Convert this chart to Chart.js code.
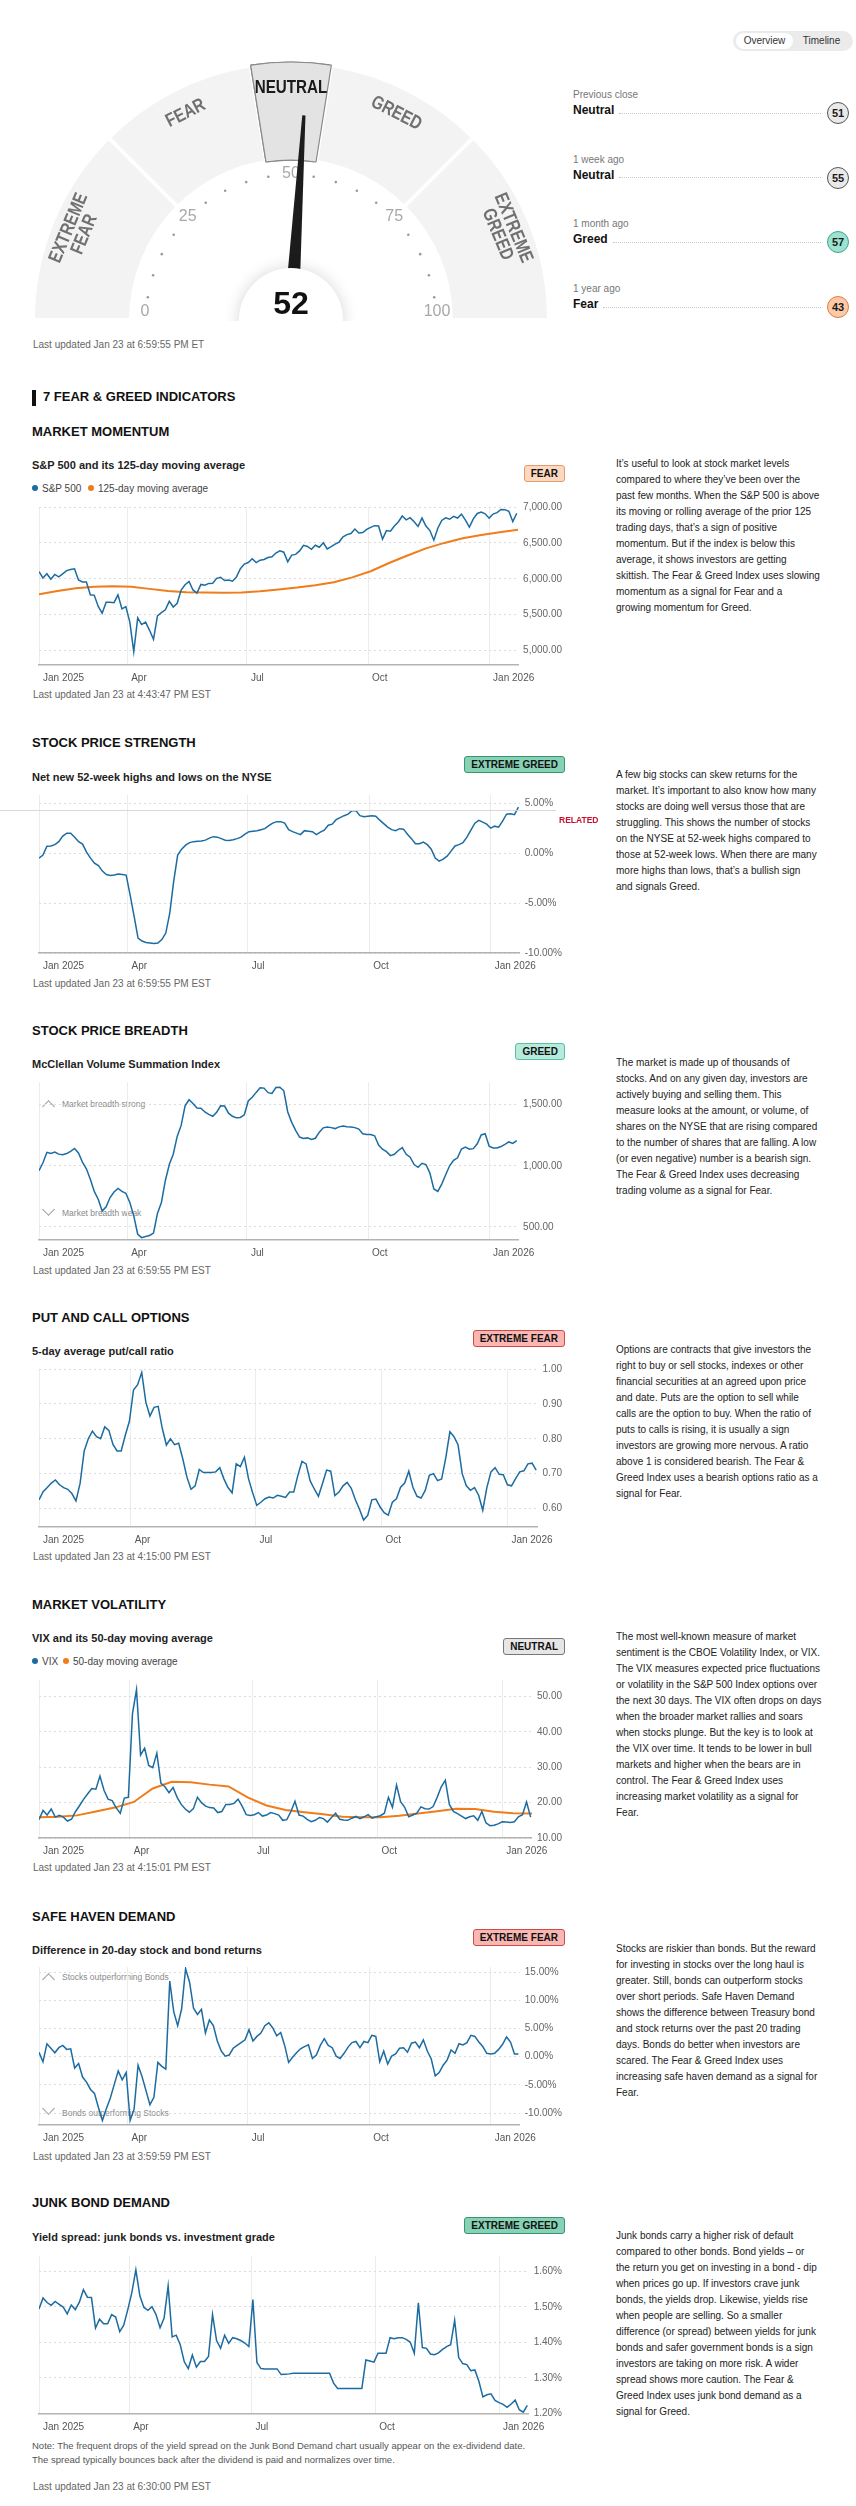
<!DOCTYPE html>
<html lang="en">
<head>
<meta charset="utf-8">
<title>Fear &amp; Greed Index</title>
<script src="https://cdn.jsdelivr.net/npm/chart.js@4/dist/chart.umd.min.js"></script>
<style>
  body { margin: 0; background: #fff; }
  #page { position: relative; width: 856px; height: 2506px; overflow: hidden;
          font-family: "Liberation Sans", Arial, sans-serif; color: #1a1a1a; }
  .abs { position: absolute; white-space: nowrap; }
  .h-title { left: 32px; font-size: 13px; font-weight: bold; line-height: 16px; color: #111; }
  .h-sub { left: 32px; font-size: 11px; font-weight: bold; line-height: 14px; color: #222; }
  .updated { left: 33px; font-size: 10px; line-height: 12px; color: #666; }
  .desc { left: 616px; font-size: 10px; line-height: 16px; color: #222; }
  .legend { font-size: 10px; line-height: 12px; color: #444; }
  .legend i { display: inline-block; width: 6px; height: 6px; border-radius: 3px; margin-right: 4px; vertical-align: 1px; }
  .badge { right: 291px; height: 17px; box-sizing: border-box; padding: 0 6px; border: 1px solid;
           border-radius: 3px; font-size: 10px; font-weight: bold; line-height: 15px; color: #111; }
  .b-fear { background: #fdd8c0; border-color: #e39a6c; }
  .b-xfear { background: #f9b6b3; border-color: #cf4b46; }
  .b-neutral { background: #e6e6e6; border-color: #777; }
  .b-greed { background: #b6eadc; border-color: #5cbfa2; }
  .b-xgreed { background: #86d2b5; border-color: #3a9474; }
  canvas.chart { position: absolute; left: 32px; }
  .annot { left: 62px; font-size: 8.5px; line-height: 10px; color: #8a8a8a; }
  .chev { position: absolute; left: 44px; width: 9px; height: 9px; box-sizing: border-box; transform: rotate(45deg); }
  .chev.up { border-left: 1px solid #9a9a9a; border-top: 1px solid #9a9a9a; }
  .chev.down { border-right: 1px solid #9a9a9a; border-bottom: 1px solid #9a9a9a; }
  .toggle { position: absolute; left: 733px; top: 31px; width: 120px; height: 20px; box-sizing: border-box;
            padding: 2px 3px; border-radius: 10px; background: #ebebeb; font-size: 10px; line-height: 16px; color: #333; }
  .toggle span { display: inline-block; width: 57px; text-align: center; border-radius: 8px; }
  .toggle span.on { background: #fff; }
  .hist-label { left: 573px; font-size: 10px; line-height: 12px; color: #777; }
  .hist-row { position: absolute; left: 573px; width: 276px; height: 22px; display: flex; align-items: center; }
  .hist-row b { font-size: 12px; line-height: 14px; position: relative; top: -3px; color: #111; }
  .hist-row .dots { flex: 1; border-top: 1px dotted #c8c8c8; margin: 0 6px 0 5px; }
  .hist-row .score { width: 22px; height: 22px; box-sizing: border-box; border: 1px solid; border-radius: 11px;
                     text-align: center; font-size: 11px; font-weight: bold; line-height: 20px; }
</style>
</head>
<body>
<div id="page">

  <!-- overview gauge -->
  <canvas id="gauge" width="542" height="290" style="position:absolute;left:20px;top:40px"></canvas>
  <div class="abs updated" style="top:339px">Last updated Jan 23 at 6:59:55 PM ET</div>
  <div class="toggle"><span class="on">Overview</span><span>Timeline</span></div>
  <div id="history"></div>

  <div class="abs" style="left:32px;top:390px;width:4px;height:16px;background:#111"></div>
  <div class="abs h-title" style="left:43px;top:389px">7 FEAR &amp; GREED INDICATORS</div>

  <!-- market momentum -->
  <div class="abs h-title" style="top:424px">MARKET MOMENTUM</div>
  <div class="abs h-sub" style="top:458px">S&amp;P 500 and its 125-day moving average</div>
  <div class="abs legend" style="left:32px;top:483px"><i style="background:#1c6ca1"></i>S&amp;P 500</div>
  <div class="abs legend" style="left:88px;top:483px"><i style="background:#f07c1a"></i>125-day moving average</div>
  <div class="abs badge b-fear" style="top:465px">FEAR</div>
  <canvas id="cMomentum" class="chart" width="535" height="191" style="top:496px"></canvas>
  <div class="abs updated" style="top:689px">Last updated Jan 23 at 4:43:47 PM EST</div>
  <div class="abs desc" style="top:456px">It’s useful to look at stock market levels<br>compared to where they’ve been over the<br>past few months. When the S&amp;P 500 is above<br>its moving or rolling average of the prior 125<br>trading days, that’s a sign of positive<br>momentum. But if the index is below this<br>average, it shows investors are getting<br>skittish. The Fear &amp; Greed Index uses slowing<br>momentum as a signal for Fear and a<br>growing momentum for Greed.</div>

  <!-- stock price strength -->
  <div class="abs h-title" style="top:735px">STOCK PRICE STRENGTH</div>
  <div class="abs h-sub" style="top:770px">Net new 52-week highs and lows on the NYSE</div>
  <div class="abs badge b-xgreed" style="top:756px">EXTREME GREED</div>
  <canvas id="cStrength" class="chart" width="535" height="191" style="top:784px"></canvas>
  <div class="abs" style="left:0;top:810px;width:556px;height:1px;background:#d8d8d8"></div>
  <div class="abs" style="left:559px;top:815px;font-size:8.5px;line-height:10px;font-weight:bold;color:#c8102e">RELATED</div>
  <div class="abs updated" style="top:978px">Last updated Jan 23 at 6:59:55 PM EST</div>
  <div class="abs desc" style="top:767px">A few big stocks can skew returns for the<br>market. It’s important to also know how many<br>stocks are doing well versus those that are<br>struggling. This shows the number of stocks<br>on the NYSE at 52-week highs compared to<br>those at 52-week lows. When there are many<br>more highs than lows, that’s a bullish sign<br>and signals Greed.</div>

  <!-- stock price breadth -->
  <div class="abs h-title" style="top:1023px">STOCK PRICE BREADTH</div>
  <div class="abs h-sub" style="top:1057px">McClellan Volume Summation Index</div>
  <div class="abs badge b-greed" style="top:1043px">GREED</div>
  <div class="chev up" style="top:1102px"></div>
  <div class="abs annot" style="top:1099px">Market breadth strong</div>
  <div class="chev down" style="top:1205px"></div>
  <div class="abs annot" style="top:1208px">Market breadth weak</div>
  <canvas id="cBreadth" class="chart" width="535" height="191" style="top:1071px"></canvas>
  <div class="abs updated" style="top:1265px">Last updated Jan 23 at 6:59:55 PM EST</div>
  <div class="abs desc" style="top:1055px">The market is made up of thousands of<br>stocks. And on any given day, investors are<br>actively buying and selling them. This<br>measure looks at the amount, or volume, of<br>shares on the NYSE that are rising compared<br>to the number of shares that are falling. A low<br>(or even negative) number is a bearish sign.<br>The Fear &amp; Greed Index uses decreasing<br>trading volume as a signal for Fear.</div>

  <!-- put and call options -->
  <div class="abs h-title" style="top:1310px">PUT AND CALL OPTIONS</div>
  <div class="abs h-sub" style="top:1344px">5-day average put/call ratio</div>
  <div class="abs badge b-xfear" style="top:1330px">EXTREME FEAR</div>
  <canvas id="cPutCall" class="chart" width="535" height="191" style="top:1358px"></canvas>
  <div class="abs updated" style="top:1551px">Last updated Jan 23 at 4:15:00 PM EST</div>
  <div class="abs desc" style="top:1342px">Options are contracts that give investors the<br>right to buy or sell stocks, indexes or other<br>financial securities at an agreed upon price<br>and date. Puts are the option to sell while<br>calls are the option to buy. When the ratio of<br>puts to calls is rising, it is usually a sign<br>investors are growing more nervous. A ratio<br>above 1 is considered bearish. The Fear &amp;<br>Greed Index uses a bearish options ratio as a<br>signal for Fear.</div>

  <!-- market volatility -->
  <div class="abs h-title" style="top:1597px">MARKET VOLATILITY</div>
  <div class="abs h-sub" style="top:1631px">VIX and its 50-day moving average</div>
  <div class="abs legend" style="left:32px;top:1656px"><i style="background:#1c6ca1"></i>VIX</div>
  <div class="abs legend" style="left:63px;top:1656px"><i style="background:#f07c1a"></i>50-day moving average</div>
  <div class="abs badge b-neutral" style="top:1638px">NEUTRAL</div>
  <canvas id="cVix" class="chart" width="535" height="191" style="top:1669px"></canvas>
  <div class="abs updated" style="top:1862px">Last updated Jan 23 at 4:15:01 PM EST</div>
  <div class="abs desc" style="top:1629px">The most well-known measure of market<br>sentiment is the CBOE Volatility Index, or VIX.<br>The VIX measures expected price fluctuations<br>or volatility in the S&amp;P 500 Index options over<br>the next 30 days. The VIX often drops on days<br>when the broader market rallies and soars<br>when stocks plunge. But the key is to look at<br>the VIX over time. It tends to be lower in bull<br>markets and higher when the bears are in<br>control. The Fear &amp; Greed Index uses<br>increasing market volatility as a signal for<br>Fear.</div>

  <!-- safe haven demand -->
  <div class="abs h-title" style="top:1909px">SAFE HAVEN DEMAND</div>
  <div class="abs h-sub" style="top:1943px">Difference in 20-day stock and bond returns</div>
  <div class="abs badge b-xfear" style="top:1929px">EXTREME FEAR</div>
  <div class="chev up" style="top:1975px"></div>
  <div class="abs annot" style="top:1972px">Stocks outperforming Bonds</div>
  <div class="chev down" style="top:2104px"></div>
  <div class="abs annot" style="top:2108px">Bonds outperforming Stocks</div>
  <canvas id="cSafe" class="chart" width="535" height="191" style="top:1956px"></canvas>
  <div class="abs updated" style="top:2151px">Last updated Jan 23 at 3:59:59 PM EST</div>
  <div class="abs desc" style="top:1941px">Stocks are riskier than bonds. But the reward<br>for investing in stocks over the long haul is<br>greater. Still, bonds can outperform stocks<br>over short periods. Safe Haven Demand<br>shows the difference between Treasury bond<br>and stock returns over the past 20 trading<br>days. Bonds do better when investors are<br>scared. The Fear &amp; Greed Index uses<br>increasing safe haven demand as a signal for<br>Fear.</div>

  <!-- junk bond demand -->
  <div class="abs h-title" style="top:2195px">JUNK BOND DEMAND</div>
  <div class="abs h-sub" style="top:2230px">Yield spread: junk bonds vs. investment grade</div>
  <div class="abs badge b-xgreed" style="top:2217px">EXTREME GREED</div>
  <canvas id="cJunk" class="chart" width="535" height="191" style="top:2245px"></canvas>
  <div class="abs" style="left:32px;top:2439px;font-size:9.5px;line-height:14px;color:#555">Note: The frequent drops of the yield spread on the Junk Bond Demand chart usually appear on the ex-dividend date.<br>The spread typically bounces back after the dividend is paid and normalizes over time.</div>
  <div class="abs updated" style="top:2481px">Last updated Jan 23 at 6:30:00 PM EST</div>
  <div class="abs desc" style="top:2228px">Junk bonds carry a higher risk of default<br>compared to other bonds. Bond yields – or<br>the return you get on investing in a bond - dip<br>when prices go up. If investors crave junk<br>bonds, the yields drop. Likewise, yields rise<br>when people are selling. So a smaller<br>difference (or spread) between yields for junk<br>bonds and safer government bonds is a sign<br>investors are taking on more risk. A wider<br>spread shows more caution. The Fear &amp;<br>Greed Index uses junk bond demand as a<br>signal for Greed.</div>
</div>

<script>
// ---- gauge data ----
const gaugeBands = [25, 20, 10, 20, 25];
const gaugeNames = [["EXTREME", "FEAR"], ["FEAR"], ["NEUTRAL"], ["GREED"], ["EXTREME", "GREED"]];
const gaugeTicks = [0, 25, 50, 75, 100];
const gaugeScore = 52;

const historyLabels = ["Previous close", "1 week ago", "1 month ago", "1 year ago"];
const historyRatings = ["Neutral", "Neutral", "Greed", "Fear"];
const historyScores = [51, 55, 57, 43];

// ---- indicator series (one value every STEP calendar days from Jan 24 2025) ----
const STEP = 3;
const MA_STEP = 14;
const xTickDays = [0, 67, 158, 250, 342];
const xTickLabels = ["Jan 2025", "Apr", "Jul", "Oct", "Jan 2026"];

const sp500 = [6101, 6012, 6071, 5994, 6061, 6026, 6068, 6115, 6129, 6140,
  5983, 5956, 5955, 5778, 5770, 5615, 5522, 5675, 5675, 5668,
  5777, 5581, 5612, 5397, 4985, 5457, 5363, 5397, 5283, 5158,
  5485, 5529, 5569, 5686, 5607, 5660, 5844, 5917, 5964, 5845,
  5802, 5922, 5912, 5936, 5939, 6006, 6022, 5977, 5983, 5967,
  6025, 6141, 6205, 6227, 6279, 6226, 6260, 6269, 6297, 6306,
  6359, 6389, 6371, 6238, 6330, 6340, 6389, 6466, 6450, 6411,
  6467, 6440, 6502, 6416, 6448, 6482, 6512, 6584, 6615, 6631,
  6693, 6638, 6644, 6688, 6716, 6740, 6735, 6552, 6671, 6664,
  6736, 6792, 6875, 6822, 6852, 6796, 6729, 6846, 6734, 6672,
  6538, 6705, 6813, 6849, 6829, 6870, 6846, 6901, 6816, 6721,
  6835, 6910, 6930, 6905, 6845, 6902, 6921, 6966, 6963, 6940,
  6797, 6913];
const sp500Ma125 = [5785, 5830, 5868, 5890, 5898, 5890, 5860, 5830, 5814, 5808,
  5805, 5810, 5828, 5852, 5878, 5912, 5952, 6020, 6105, 6220,
  6325, 6424, 6500, 6565, 6610, 6648, 6683];

const netHighsLows = [-0.5, -0.2, 0.7, 0.72, 0.85, 1.15, 1.7, 2.0, 2.0, 1.6,
  1.15, 0.9, 0.1, -0.5, -1.0, -1.25, -1.8, -2.15, -2.25, -2.2,
  -2.1, -2.15, -2.2, -4.2, -6.3, -8.5, -8.8, -8.95, -9.0, -9.05,
  -9.0, -8.65, -8.0, -6.0, -2.8, -0.2, 0.4, 0.8, 1.05, 1.15,
  1.2, 1.22, 1.3, 1.5, 1.65, 1.6, 1.45, 1.3, 1.27, 1.35,
  1.45, 1.6, 1.9, 2.15, 2.2, 2.25, 2.35, 2.45, 2.75, 3.0,
  3.15, 3.15, 3.0, 2.35, 2.15, 2.0, 1.85, 2.25, 2.2, 2.15,
  1.85, 2.1, 2.3, 2.8, 2.9, 3.35, 3.55, 3.75, 3.9, 4.25,
  4.25, 3.75, 3.65, 3.7, 3.75, 3.7, 3.3, 2.95, 2.6, 2.35,
  2.24, 2.45, 2.4, 1.9, 1.45, 0.95, 0.95, 1.1, 0.85, 0.4,
  -0.5, -0.8, -0.6, -0.3, 0.2, 0.72, 0.85, 1.05, 1.6, 2.3,
  3.0, 3.28, 3.1, 2.9, 2.5, 2.7, 2.6, 3.2, 3.9, 3.95,
  3.85, 4.6];

const mcclellan = [960, 1025, 1110, 1100, 1112, 1095, 1090, 1100, 1118, 1142,
  1105, 1030, 975, 890, 790, 726, 630, 665, 740, 785,
  815, 790, 775, 700, 590, 440, 412, 422, 430, 450,
  610, 700, 880, 1010, 1094, 1240, 1330, 1490, 1540, 1510,
  1473, 1470, 1440, 1420, 1405, 1438, 1490, 1488, 1430, 1405,
  1392, 1395, 1417, 1530, 1560, 1600, 1638, 1635, 1598, 1591,
  1640, 1642, 1613, 1440, 1355, 1290, 1235, 1223, 1228, 1215,
  1225, 1275, 1310, 1317, 1312, 1304, 1318, 1325, 1320, 1317,
  1312, 1300, 1262, 1255, 1256, 1245, 1170, 1135, 1115, 1083,
  1094, 1125, 1148, 1094, 1070, 1010, 987, 1020, 1010, 940,
  810, 790, 850, 927, 1000, 1045, 1065, 1137, 1152, 1135,
  1140, 1180, 1252, 1262, 1160, 1145, 1145, 1157, 1175, 1195,
  1183, 1205];

const putCallRatio = [0.625, 0.648, 0.66, 0.673, 0.682, 0.668, 0.66, 0.655, 0.643, 0.622,
  0.672, 0.765, 0.8, 0.822, 0.806, 0.8, 0.834, 0.824, 0.784, 0.765,
  0.765, 0.81, 0.85, 0.94, 0.955, 0.99, 0.905, 0.865, 0.89, 0.893,
  0.83, 0.782, 0.8, 0.783, 0.787, 0.742, 0.69, 0.655, 0.665, 0.712,
  0.703, 0.703, 0.703, 0.705, 0.717, 0.685, 0.66, 0.645, 0.728, 0.72,
  0.747, 0.685, 0.645, 0.609, 0.618, 0.628, 0.633, 0.63, 0.638, 0.635,
  0.632, 0.647, 0.647, 0.695, 0.735, 0.728, 0.679, 0.656, 0.635, 0.672,
  0.71, 0.707, 0.637, 0.647, 0.665, 0.675, 0.658, 0.625, 0.598, 0.567,
  0.58, 0.625, 0.627, 0.605, 0.588, 0.581, 0.618, 0.628, 0.661, 0.673,
  0.707, 0.661, 0.635, 0.63, 0.652, 0.695, 0.7, 0.68, 0.685, 0.745,
  0.82, 0.806, 0.782, 0.7, 0.665, 0.652, 0.66, 0.638, 0.595, 0.66,
  0.705, 0.717, 0.698, 0.697, 0.668, 0.665, 0.686, 0.705, 0.708, 0.728,
  0.73, 0.71];

const vix = [15.2, 17.8, 16.5, 18.2, 15.9, 16.4, 15.9, 14.8, 15.3, 17.5,
  19.2, 21.0, 22.5, 24.0, 23.8, 27.5, 23.5, 21.0, 20.6, 18.5,
  17.0, 21.3, 21.5, 45.1, 52.0, 33.5, 35.4, 30.5, 29.9, 34.0,
  25.5, 24.5, 22.8, 24.3, 21.5, 19.5, 18.2, 17.3, 18.3, 21.5,
  20.0, 19.0, 18.6, 18.5, 17.2, 17.5, 19.5, 19.5, 19.8, 21.0,
  19.0, 16.6, 16.4, 16.6, 17.2, 16.2, 16.5, 17.2, 16.9, 16.5,
  15.0, 15.2, 17.5, 20.4, 16.5, 16.2, 15.3, 14.6, 15.0, 15.8,
  15.5, 14.5, 15.8, 17.0, 15.3, 15.1, 15.0, 15.6, 16.1, 15.5,
  16.0, 16.6, 15.6, 16.0, 16.3, 17.0, 21.5, 18.7, 25.0, 20.3,
  18.7, 16.0, 16.5, 17.0, 18.8, 18.3, 18.2, 18.9, 21.5, 24.5,
  26.3, 19.5, 17.5, 16.9, 16.2, 15.5, 16.0, 16.3, 15.0, 17.5,
  14.3, 13.5, 13.6, 14.0, 14.6, 14.5, 14.4, 14.6, 16.0, 16.6,
  20.2, 15.9];
const vixMa50 = [15.9, 16.0, 16.4, 17.5, 18.6, 20.2, 24.0, 25.9, 25.8, 25.1,
  24.6, 21.5, 19.2, 17.9, 17.3, 16.7, 16.0, 15.9, 15.9, 16.3,
  16.9, 17.6, 18.3, 18.2, 17.4, 17.0, 16.9];

const stockBondDiff = [0.8, -0.9, 2.3, 1.5, 0.7, 1.6, 2.0, 1.3, 1.4, -2.0,
  -1.2, -3.6, -4.5, -5.8, -6.5, -9.0, -11.3, -9.2, -7.3, -4.9,
  -2.5, -4.1, -2.8, -11.3, -9.3, -1.5, -3.5, -6.0, -8.5, -7.2,
  -1.0, -1.7, -2.2, 13.4, 8.0, 5.5, 8.5, 15.6, 13.2, 8.6,
  7.5, 8.4, 4.2, 6.5, 5.5, 2.8, 1.0, 0.1, 0.3, 1.5,
  2.0, 2.5, 3.0, 4.8, 2.8, 3.6, 4.2, 5.5, 6.0, 5.1,
  3.7, 4.3, 2.0, -1.0, -0.1, 0.7, 1.4, 1.8, 2.1, -0.3,
  0.3, 2.0, 3.2, 2.0, 1.6, 0.1, -0.3, 0.6, 1.7, 2.5,
  2.7, 1.6, 2.7, 2.5, 3.8, 3.6, -0.9, 1.0, -1.3, 0.1,
  0.5, 1.5, 1.6, 0.8, 2.4, 2.6, 1.6, 3.0, 1.0, -0.4,
  -3.4, -2.8, -1.5, -0.6, 1.2, 0.6, 2.3, 2.1, 2.5, 3.8,
  3.6, 2.6, 1.8, 0.6, 0.5, 0.6, 1.3, 2.2, 3.5, 2.6,
  0.5, 0.5];

const junkSpread = [1.494, 1.525, 1.512, 1.504, 1.515, 1.507, 1.499, 1.48, 1.505, 1.492,
  1.513, 1.548, 1.527, 1.526, 1.44, 1.465, 1.452, 1.452, 1.478, 1.471,
  1.43, 1.448, 1.492, 1.54, 1.604, 1.53, 1.498, 1.49, 1.5, 1.478,
  1.441, 1.468, 1.559, 1.415, 1.42, 1.393, 1.345, 1.326, 1.364, 1.33,
  1.346, 1.346, 1.36, 1.478, 1.405, 1.383, 1.42, 1.397, 1.413, 1.41,
  1.405, 1.398, 1.388, 1.52, 1.343, 1.326, 1.325, 1.325, 1.325, 1.325,
  1.309, 1.31, 1.311, 1.313, 1.313, 1.313, 1.313, 1.313, 1.313, 1.313,
  1.313, 1.313, 1.313, 1.285, 1.27, 1.27, 1.27, 1.27, 1.27, 1.27,
  1.27, 1.35, 1.347, 1.344, 1.369, 1.369, 1.369, 1.413, 1.41, 1.413,
  1.413, 1.408, 1.4, 1.369, 1.511, 1.385, 1.383, 1.367, 1.365, 1.37,
  1.38, 1.388, 1.393, 1.462, 1.357, 1.34, 1.337, 1.32, 1.322, 1.29,
  1.246, 1.252, 1.255, 1.236, 1.23, 1.225, 1.217, 1.226, 1.237, 1.21,
  1.203, 1.222];

const BLUE = "#1c6ca1";
const ORANGE = "#f07c1a";
const FONT = '"Liberation Sans", Arial, sans-serif';

Chart.defaults.font.family = FONT;
Chart.defaults.font.size = 10;

const fmtThousands = (v) => v.toLocaleString("en-US", { minimumFractionDigits: 2, maximumFractionDigits: 2 });
const fmtPct = (v) => v.toFixed(2) + "%";
const fmtNum = (v) => v.toFixed(2);

// history list next to the gauge
function buildHistory() {
  const box = document.getElementById("history");
  const styles = {
    Neutral: ["#e9e9e9", "#555"],
    Greed: ["#9be2d1", "#3aa88a"],
    Fear: ["#fcc9a9", "#e3793a"],
  };
  historyLabels.forEach((label, i) => {
    const top = 89 + i * 64.7;
    const l = document.createElement("div");
    l.className = "abs hist-label";
    l.style.top = top + "px";
    l.textContent = label;
    box.appendChild(l);

    const row = document.createElement("div");
    row.className = "hist-row";
    row.style.top = top + 13 + "px";
    const [bg, bd] = styles[historyRatings[i]];
    row.innerHTML =
      "<b>" + historyRatings[i] + "</b><span class='dots'></span>" +
      "<span class='score' style='background:" + bg + ";border-color:" + bd + "'>" + historyScores[i] + "</span>";
    box.appendChild(row);
  });
}

// labels, ticks, needle and hub on top of the doughnut
const gaugeDecor = {
  id: "gaugeDecor",
  afterDatasetsDraw(chart) {
    const ctx = chart.ctx;
    const arcs = chart.getDatasetMeta(0).data;
    const cx = arcs[0].x;
    const cy = arcs[0].y;
    const angleOf = (v) => -Math.PI + (v / 100) * Math.PI;

    // find the band holding the score and put it on top
    let acc = 0;
    let active = 0;
    gaugeBands.forEach((b, i) => {
      if (gaugeScore >= acc && gaugeScore < acc + b) active = i;
      acc += b;
    });
    arcs[active].draw(ctx);

    ctx.save();
    ctx.textAlign = "center";
    ctx.textBaseline = "middle";

    arcs.forEach((arc, i) => {
      const a = (arc.startAngle + arc.endAngle) / 2;
      const r = 232;
      const lines = gaugeNames[i];
      ctx.save();
      ctx.translate(cx + Math.cos(a) * r, cy + Math.sin(a) * r);
      ctx.rotate(a + Math.PI / 2);
      ctx.scale(0.8, 1);
      ctx.font = "bold 19px " + FONT;
      ctx.fillStyle = i === active ? "#1a1a1a" : "#707070";
      lines.forEach((line, k) => ctx.fillText(line, 0, (k - (lines.length - 1) / 2) * 17));
      ctx.restore();
    });

    ctx.font = "16px " + FONT;
    ctx.fillStyle = "#a8a8a8";
    gaugeTicks.forEach((v) => {
      const a = angleOf(v);
      const x = cx + Math.cos(a) * 146;
      const y = Math.min(cy + Math.sin(a) * 146, cy - 8);
      ctx.fillText(String(v), x, y);
    });

    ctx.fillStyle = "#9a9a9a";
    for (let v = 5; v < 100; v += 5) {
      if (v % 25 === 0) continue;
      const a = angleOf(v);
      ctx.beginPath();
      ctx.arc(cx + Math.cos(a) * 145, cy + Math.sin(a) * 145, 1.3, 0, Math.PI * 2);
      ctx.fill();
    }

    // needle
    const a = angleOf(gaugeScore);
    const ux = Math.cos(a), uy = Math.sin(a);
    const px = -uy, py = ux;
    ctx.beginPath();
    ctx.moveTo(cx + ux * 40 + px * 6.5, cy + uy * 40 + py * 6.5);
    ctx.lineTo(cx + ux * 205 + px * 1.6, cy + uy * 205 + py * 1.6);
    ctx.lineTo(cx + ux * 205 - px * 1.6, cy + uy * 205 - py * 1.6);
    ctx.lineTo(cx + ux * 40 - px * 6.5, cy + uy * 40 - py * 6.5);
    ctx.closePath();
    ctx.fillStyle = "#1c1c1c";
    ctx.fill();

    // hub
    ctx.save();
    ctx.beginPath();
    ctx.rect(cx - 100, cy - 100, 200, 101);
    ctx.clip();
    ctx.shadowColor = "rgba(0,0,0,0.16)";
    ctx.shadowBlur = 16;
    ctx.beginPath();
    ctx.arc(cx, cy, 52, 0, Math.PI * 2);
    ctx.fillStyle = "#fff";
    ctx.fill();
    ctx.restore();

    ctx.font = "bold 32px " + FONT;
    ctx.fillStyle = "#111";
    ctx.fillText(String(gaugeScore), cx, cy - 15);
    ctx.restore();
  },
};

function buildGauge() {
  new Chart(document.getElementById("gauge"), {
    type: "doughnut",
    data: {
      labels: gaugeNames.map((n) => n.join(" ")),
      datasets: [{
        data: gaugeBands,
        backgroundColor: ["#f3f3f3", "#f3f3f3", "#e3e3e3", "#f3f3f3", "#f3f3f3"],
        borderColor: ["#fff", "#fff", "#8a8a8a", "#fff", "#fff"],
        borderWidth: [4, 4, 1.2, 4, 4],
        clip: false,
      }],
    },
    options: {
      responsive: false,
      animation: false,
      events: [],
      rotation: -90,
      circumference: 180,
      radius: 258,
      cutout: "62%",
      layout: { padding: { left: 15, right: 15, top: 22, bottom: 10 } },
      plugins: { legend: { display: false }, tooltip: { enabled: false } },
    },
    plugins: [gaugeDecor],
  });
}

function lineChart(id, series, yMin, yMax, yTicks, fmt) {
  return new Chart(document.getElementById(id), {
    type: "line",
    data: {
      datasets: series.map((s) => ({
        data: s.values.map((v, i) => ({ x: i * s.step, y: v })),
        borderColor: s.color,
        borderWidth: s.width,
        pointRadius: 0,
        tension: 0,
        fill: false,
      })),
    },
    options: {
      responsive: false,
      animation: false,
      events: [],
      layout: { padding: { top: 8, left: 0, right: 0, bottom: 0 } },
      plugins: { legend: { display: false }, tooltip: { enabled: false } },
      scales: {
        x: {
          type: "linear",
          min: 0,
          max: 364,
          bounds: "data",
          afterBuildTicks: (scale) => { scale.ticks = xTickDays.map((v) => ({ value: v })); },
          afterFit: (scale) => { scale.height = 22; },
          ticks: {
            align: "start",
            labelOffset: 4,
            padding: 7,
            color: "#555",
            maxRotation: 0,
            autoSkip: false,
            callback: (v, i) => xTickLabels[i],
          },
          grid: { color: "#ececec", drawTicks: false },
          border: { display: true, color: "#b3b3b3", width: 1.5 },
        },
        y: {
          position: "right",
          min: yMin,
          max: yMax,
          bounds: "data",
          afterBuildTicks: (scale) => { scale.ticks = yTicks.map((v) => ({ value: v })); },
          ticks: { padding: 5, color: "#666", callback: (v) => fmt(v) },
          grid: { color: "#dcdcdc", drawTicks: false },
          border: { display: false, dash: [2, 3] },
        },
      },
    },
  });
}

document.addEventListener("DOMContentLoaded", function () {
  buildHistory();
  buildGauge();

  lineChart("cMomentum", [
    { values: sp500, step: STEP, color: BLUE, width: 1.5 },
    { values: sp500Ma125, step: MA_STEP, color: ORANGE, width: 2 },
  ], 4800, 7000, [5000, 5500, 6000, 6500, 7000], fmtThousands);

  lineChart("cStrength", [
    { values: netHighsLows, step: STEP, color: BLUE, width: 1.5 },
  ], -10, 5.82, [-10, -5, 0, 5], fmtPct);

  lineChart("cBreadth", [
    { values: mcclellan, step: STEP, color: BLUE, width: 1.5 },
  ], 393, 1685, [500, 1000, 1500], fmtThousands);

  lineChart("cPutCall", [
    { values: putCallRatio, step: STEP, color: BLUE, width: 1.5 },
  ], 0.547, 1.0, [0.6, 0.7, 0.8, 0.9, 1.0], fmtNum);

  lineChart("cVix", [
    { values: vix, step: STEP, color: BLUE, width: 1.5 },
    { values: vixMa50, step: MA_STEP, color: ORANGE, width: 2 },
  ], 10, 54.7, [10, 20, 30, 40, 50], fmtNum);

  lineChart("cSafe", [
    { values: stockBondDiff, step: STEP, color: BLUE, width: 1.5 },
  ], -12.1, 15.9, [-10, -5, 0, 5, 10, 15], fmtPct);

  lineChart("cJunk", [
    { values: junkSpread, step: STEP, color: BLUE, width: 1.5 },
  ], 1.198, 1.643, [1.2, 1.3, 1.4, 1.5, 1.6], fmtPct);
});
</script>
</body>
</html>
